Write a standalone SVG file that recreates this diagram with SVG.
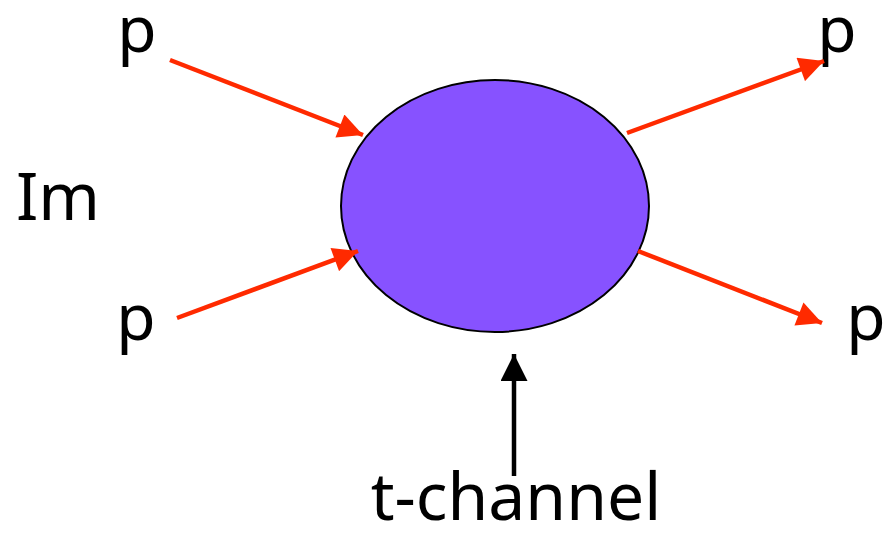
<svg xmlns="http://www.w3.org/2000/svg" width="883" height="539" viewBox="0 0 883 539">
<style>
.lbl{font-family:"Noto Sans","DejaVu Sans",sans-serif;fill:#000;}
.red{stroke:#ff2a00;stroke-width:4.5;fill:none;}
.blk{stroke:#000;stroke-width:4.5;fill:none;}
</style>
<defs>
<marker id="ar" viewBox="0 0 10 10" refX="10" refY="5" markerWidth="6" markerHeight="5.5" markerUnits="strokeWidth" orient="auto"><path d="M0,0 L10,5 L0,10 z" fill="#ff2a00"/></marker>
<marker id="ab" viewBox="0 0 10 10" refX="10" refY="5" markerWidth="6.5" markerHeight="6" markerUnits="strokeWidth" orient="auto"><path d="M0,0 L10,5 L0,10 z" fill="#000"/></marker>
</defs>
<rect width="883" height="539" fill="#fff"/>
<g id="blob"><ellipse cx="495" cy="206" rx="154" ry="126" fill="#8752ff" stroke="#000" stroke-width="2"/></g>
<g id="p1"><text class="lbl" x="137" y="52" font-size="64" text-anchor="middle">p</text></g>
<g id="p2"><text class="lbl" x="837" y="52" font-size="64" text-anchor="middle">p</text></g>
<g id="p3"><text class="lbl" x="136" y="340" font-size="64" text-anchor="middle">p</text></g>
<g id="p4"><text class="lbl" x="866" y="340" font-size="64" text-anchor="middle">p</text></g>
<g id="im"><text class="lbl" x="58" y="220" font-size="66" text-anchor="middle">Im</text></g>
<g id="tch"><text class="lbl" x="516" y="520" font-size="66" text-anchor="middle">t-channel</text></g>
<g id="connectors">
<line class="red" x1="170" y1="60" x2="363" y2="135" marker-end="url(#ar)"/>
<line class="red" x1="177" y1="318" x2="358" y2="251" marker-end="url(#ar)"/>
<line class="red" x1="627" y1="133" x2="824" y2="61" marker-end="url(#ar)"/>
<line class="red" x1="638" y1="251" x2="822" y2="323" marker-end="url(#ar)"/>
<line class="blk" x1="514" y1="476" x2="514" y2="354" marker-end="url(#ab)"/>
</g>
</svg>
